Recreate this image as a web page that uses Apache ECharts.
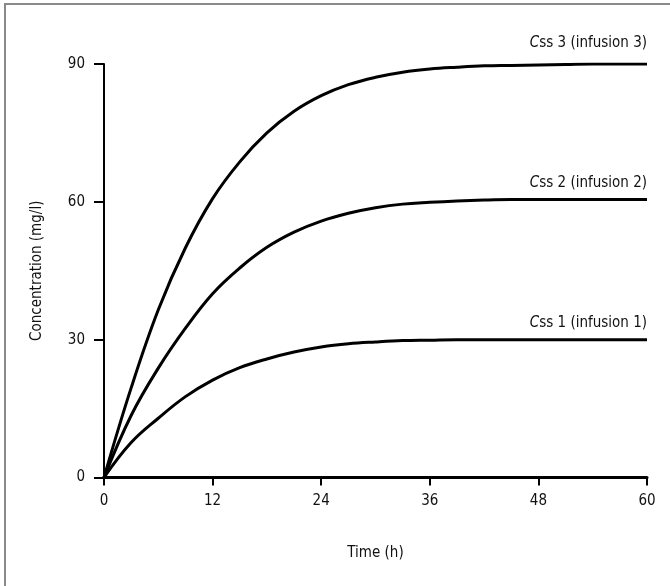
<!DOCTYPE html>
<html>
<head>
<meta charset="utf-8">
<script src="https://cdn.jsdelivr.net/npm/echarts@6/dist/echarts.min.js"></script>
<style>
html,body{margin:0;padding:0;background:#fff;}
#chart{width:670px;height:586px;}
</style>
</head>
<body>
<div id="chart"></div>
<script>
var timeH = [0, 3, 6, 9, 12, 15, 18, 21, 24, 27, 30, 33, 36, 39, 42, 45, 48, 51, 54, 57, 60];
var infusion1 = [0, 7.6, 12.9, 17.6, 21.2, 23.9, 25.8, 27.3, 28.4, 29.1, 29.5, 29.8, 29.9, 30, 30, 30, 30, 30, 30, 30, 30];
var infusion2 = [0, 13.5, 23.8, 32.5, 40, 45.6, 50.1, 53.4, 55.8, 57.5, 58.7, 59.5, 59.9, 60.2, 60.4, 60.5, 60.5, 60.5, 60.5, 60.5, 60.5];
var infusion3 = [0, 19.5, 36.5, 50, 60.7, 68.7, 75, 79.7, 83.1, 85.5, 87.1, 88.2, 88.9, 89.3, 89.6, 89.7, 89.8, 89.9, 90, 90, 90];
var seriesLabels = ['Css 1 (infusion 1)', 'Css 2 (infusion 2)', 'Css 3 (infusion 3)'];
var xTicks = [0, 12, 24, 36, 48, 60];
var yTicks = [0, 30, 60, 90];
var xTitle = 'Time (h)';
var yTitle = 'Concentration (mg/l)';

var FONT = "'Liberation Sans Narrow', 'DejaVu Sans Condensed', 'Roboto Condensed', sans-serif";

function buildSeries(values, name, labelGap) {
  var data = values.map(function (v, i) {
    var item = { value: [timeH[i], v] };
    if (i === values.length - 1) {
      item.label = {
        show: true,
        position: 'top',
        align: 'right',
        distance: labelGap,
        formatter: '{i|C}ss' + name.slice(3),
        color: '#111',
        fontSize: 15,
        fontFamily: FONT,
        rich: { i: { fontStyle: 'italic', fontSize: 15, fontFamily: FONT, color: '#111' } }
      };
    }
    return item;
  });
  return {
    type: 'line',
    name: name,
    data: data,
    smooth: 0.4,
    showSymbol: true,
    symbol: 'circle',
    symbolSize: 0,
    silent: true,
    lineStyle: { color: '#000', width: 3 },
    itemStyle: { color: '#000' },
    label: { show: false },
    animation: false
  };
}

var chart = echarts.init(document.getElementById('chart'), null, { renderer: 'canvas' });
chart.setOption({
  backgroundColor: '#fff',
  animation: false,
  graphic: [
    { type: 'line', shape: { x1: 5, y1: 4, x2: 5, y2: 586 }, style: { stroke: '#8a8a8a', lineWidth: 2 } },
    { type: 'line', shape: { x1: 4, y1: 4, x2: 670, y2: 4 }, style: { stroke: '#8a8a8a', lineWidth: 2 } }
  ],
  grid: { left: 104, right: 23, top: 64, bottom: 108.5, containLabel: false },
  xAxis: {
    type: 'value',
    min: xTicks[0],
    max: xTicks[xTicks.length - 1],
    interval: 12,
    name: xTitle,
    nameLocation: 'middle',
    nameGap: 68,
    nameTextStyle: { color: '#111', fontSize: 15, fontFamily: FONT },
    axisLine: { show: true, onZero: false, lineStyle: { color: '#000', width: 3 } },
    axisTick: { show: true, length: 8, lineStyle: { color: '#000', width: 2 } },
    axisLabel: { color: '#111', fontSize: 15, fontFamily: FONT, margin: 16 },
    splitLine: { show: false }
  },
  yAxis: {
    type: 'value',
    min: yTicks[0],
    max: yTicks[yTicks.length - 1],
    interval: 30,
    name: yTitle,
    nameLocation: 'middle',
    nameGap: 59,
    nameTextStyle: { color: '#111', fontSize: 15, fontFamily: FONT },
    axisLine: { show: true, onZero: false, lineStyle: { color: '#000', width: 2 } },
    axisTick: { show: true, length: 10, lineStyle: { color: '#000', width: 2 } },
    axisLabel: { color: '#111', fontSize: 15, fontFamily: FONT, margin: 19 },
    splitLine: { show: false }
  },
  series: [
    buildSeries(infusion1, seriesLabels[0], 9),
    buildSeries(infusion2, seriesLabels[1], 9),
    buildSeries(infusion3, seriesLabels[2], 13)
  ]
});
</script>
</body>
</html>
